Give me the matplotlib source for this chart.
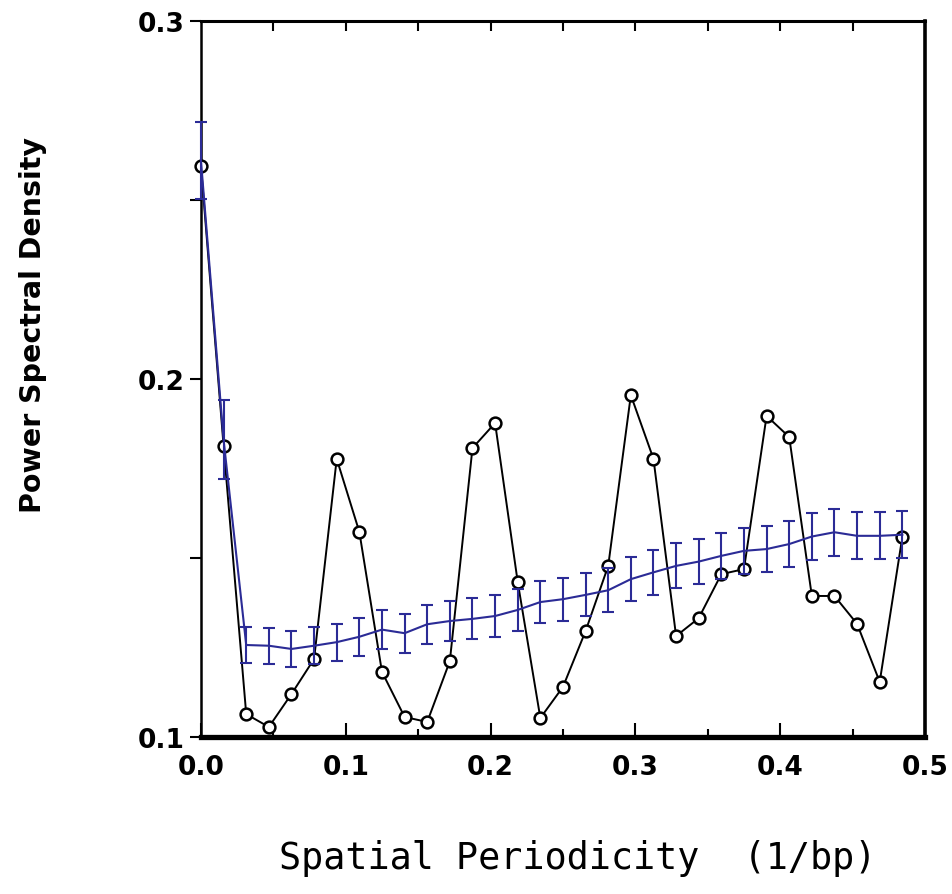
import numpy as np
import matplotlib
matplotlib.use("Agg")
import matplotlib.pyplot as plt
from matplotlib.ticker import FixedLocator

# frequency bins k/64 (1/bp)
freq = np.arange(32) / 64.0

# observed spectrum (black open circles)
psd_obs = [0.2595, 0.1813, 0.1064, 0.1028, 0.1120, 0.1218, 0.1777, 0.1573,
           0.1182, 0.1056, 0.1042, 0.1212, 0.1807, 0.1877, 0.1433, 0.1053,
           0.1140, 0.1296, 0.1478, 0.1955, 0.1777, 0.1282, 0.1332, 0.1455,
           0.1469, 0.1897, 0.1838, 0.1394, 0.1394, 0.1316, 0.1154, 0.1559]

# reference spectrum (blue, with error bars)
psd_ref = [0.2610, 0.1830, 0.1257, 0.1255, 0.1246, 0.1255, 0.1265, 0.1280,
           0.1300, 0.1290, 0.1315, 0.1324, 0.1330, 0.1338, 0.1355, 0.1377,
           0.1385, 0.1397, 0.1410, 0.1441, 0.1460, 0.1478, 0.1490, 0.1506,
           0.1520, 0.1525, 0.1539, 0.1560, 0.1572, 0.1562, 0.1562, 0.1565]
psd_err = [0.0108, 0.0110, 0.0050, 0.0050, 0.0051, 0.0051, 0.0052, 0.0053,
           0.0054, 0.0054, 0.0055, 0.0056, 0.0057, 0.0058, 0.0058, 0.0059,
           0.0060, 0.0060, 0.0061, 0.0062, 0.0062, 0.0063, 0.0063, 0.0064,
           0.0064, 0.0065, 0.0065, 0.0066, 0.0066, 0.0066, 0.0066, 0.0066]

x_major = [0.0, 0.1, 0.2, 0.3, 0.4, 0.5]
x_minor = [0.05, 0.15, 0.25, 0.35, 0.45]
x_labels = ["0.0", "0.1", "0.2", "0.3", "0.4", "0.5"]
y_major = [0.1, 0.2, 0.3]
y_minor = [0.15, 0.25]
y_labels = ["0.1", "0.2", "0.3"]

BLUE = "#2b2b96"

plt.rcParams["font.family"] = "DejaVu Sans"

fig = plt.figure(figsize=(9.52, 8.95), dpi=100)
ax = fig.add_axes([0.2111, 0.1754, 0.7605, 0.8000])

ax.plot(freq, psd_obs, color="black", linewidth=1.4, marker="o",
        markersize=8.5, markerfacecolor="white", markeredgecolor="black",
        markeredgewidth=1.8, zorder=3, clip_on=False)

ax.errorbar(freq, psd_ref, yerr=psd_err, color=BLUE, linewidth=1.5,
            elinewidth=1.5, capsize=4.5, capthick=1.5, zorder=4,
            clip_on=False)

ax.set_xlim(0, 0.5)
ax.set_ylim(0.1, 0.3)

# y axis: outward ticks, labels only at 0.1 / 0.2 / 0.3
ax.yaxis.set_major_locator(FixedLocator(y_major))
ax.yaxis.set_minor_locator(FixedLocator(y_minor))
ax.set_yticklabels(y_labels)
ax.tick_params(axis="y", which="both", direction="out", length=8, width=1.5,
               labelsize=19, right=False)

# x axis: inward ticks every 0.05 on the bottom
ax.xaxis.set_major_locator(FixedLocator(x_major))
ax.xaxis.set_minor_locator(FixedLocator(x_minor))
ax.set_xticklabels(x_labels)
ax.tick_params(axis="x", which="major", direction="in", length=10, width=1.5,
               labelsize=19, top=False, pad=12)
ax.tick_params(axis="x", which="minor", direction="in", length=6, width=1.5,
               top=False)
for lab in ax.get_xticklabels() + ax.get_yticklabels():
    lab.set_fontweight("bold")

# inward ticks along the top edge, all the same length
top = ax.twiny()
top.set_xlim(ax.get_xlim())
top.xaxis.set_major_locator(FixedLocator(x_minor + x_major[1:-1]))
top.tick_params(axis="x", direction="in", length=7, width=1.5,
                labeltop=False, bottom=False, labelbottom=False)
for s in top.spines.values():
    s.set_visible(False)

ax.spines["left"].set_linewidth(1.8)
ax.spines["top"].set_linewidth(2.2)
ax.spines["right"].set_linewidth(2.6)
ax.spines["bottom"].set_linewidth(3.8)

ax.set_ylabel("Power Spectral Density", fontsize=20.5, fontweight="bold")
ax.yaxis.set_label_coords(-0.213, 0.577)
ax.set_xlabel("Spatial Periodicity  (1/bp)", fontsize=26.5,
              family="DejaVu Sans Mono", fontweight="medium")
ax.xaxis.set_label_coords(0.52, -0.143)

fig.savefig("out.png", dpi=100)
